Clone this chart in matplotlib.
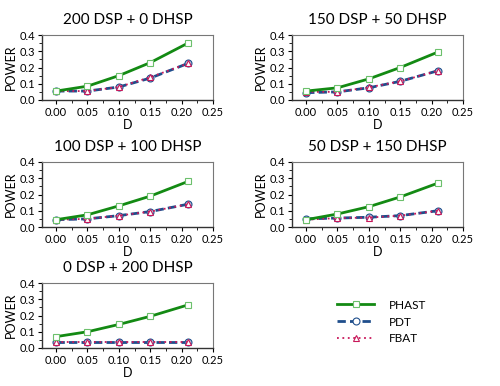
import matplotlib
matplotlib.use("Agg")
import matplotlib.pyplot as plt
from matplotlib.ticker import MultipleLocator

plt.rcParams["font.family"] = ["Lato", "DejaVu Sans"]

d = [0.00, 0.05, 0.10, 0.15, 0.21]
titles = ["200 DSP + 0 DHSP", "150 DSP + 50 DHSP", "100 DSP + 100 DHSP",
          "50 DSP + 150 DHSP", "0 DSP + 200 DHSP"]
phast = [
    [0.055, 0.085, 0.150, 0.230, 0.350],
    [0.055, 0.075, 0.130, 0.200, 0.295],
    [0.045, 0.075, 0.130, 0.190, 0.280],
    [0.045, 0.080, 0.125, 0.185, 0.270],
    [0.070, 0.100, 0.145, 0.195, 0.265],
]
pdt = [
    [0.055, 0.055, 0.080, 0.135, 0.225],
    [0.045, 0.050, 0.075, 0.115, 0.180],
    [0.045, 0.050, 0.070, 0.095, 0.140],
    [0.050, 0.055, 0.060, 0.070, 0.100],
    [0.035, 0.035, 0.035, 0.035, 0.035],
]
fbat = [
    [0.055, 0.055, 0.080, 0.140, 0.225],
    [0.050, 0.050, 0.078, 0.115, 0.180],
    [0.045, 0.050, 0.070, 0.095, 0.140],
    [0.045, 0.055, 0.058, 0.070, 0.100],
    [0.035, 0.035, 0.035, 0.035, 0.035],
]

green = "#138a13"
blue = "#1f4e8c"
red = "#c8185a"

fig = plt.figure(figsize=(5, 3.86), dpi=100)
W, H = 500, 386
lefts = [42, 292]
tops = [35, 162, 283]
aw, ah = 171, 65

for i in range(5):
    r, c = divmod(i, 2)
    ax = fig.add_axes([lefts[c] / W, 1 - (tops[r] + ah) / H, aw / W, ah / H])
    ax.plot(d, pdt[i], color=blue, ls=(0, (3, 1.5)), lw=2, marker="o", ms=5,
            mfc="#b8c8de", mec=blue, mew=0.8, label="PDT")
    ax.plot(d, fbat[i], color=red, ls=(0, (1, 2)), lw=1.3, marker="^", ms=4,
            mfc="white", mec=red, mew=0.8, label="FBAT")
    ax.plot(d, phast[i], color=green, lw=2, marker="s", ms=4.5,
            mfc="white", mec="#6cc06c", mew=0.8, label="PHAST")
    ax.set_xlim(-0.0225, 0.25)
    ax.set_ylim(0, 0.4)
    ax.xaxis.set_major_locator(MultipleLocator(0.05))
    ax.xaxis.set_minor_locator(MultipleLocator(0.025))
    ax.yaxis.set_major_locator(MultipleLocator(0.1))
    ax.yaxis.set_minor_locator(MultipleLocator(0.05))
    ax.xaxis.set_major_formatter(lambda v, p: f"{v:.2f}")
    ax.yaxis.set_major_formatter(lambda v, p: f"{v:.1f}")
    ax.tick_params(labelsize=8, length=3, width=0.8, pad=2)
    ax.tick_params(which="minor", length=2, width=0.6)
    for s in ["top", "right"]:
        ax.spines[s].set_color("#777777")
        ax.spines[s].set_linewidth(0.8)
    for s in ["left", "bottom"]:
        ax.spines[s].set_color("#333333")
        ax.spines[s].set_linewidth(1.0)
    ax.set_title(titles[i], fontsize=11, pad=8)
    ax.set_xlabel("D", fontsize=9, labelpad=1)
    ax.set_ylabel("POWER", fontsize=9, labelpad=2)
    if i == 0:
        handles, labels = ax.get_legend_handles_labels()

order = [2, 0, 1]
leg = fig.legend([handles[k] for k in order], [labels[k] for k in order],
                 loc="center left", bbox_to_anchor=(326 / W, 1 - 322 / H),
                 frameon=False, fontsize=8.5, handlelength=3.2,
                 labelspacing=0.5, handletextpad=1.2)
for h in leg.legend_handles:
    h.set_markerfacecolor("white")

fig.savefig("out.png", dpi=100)
